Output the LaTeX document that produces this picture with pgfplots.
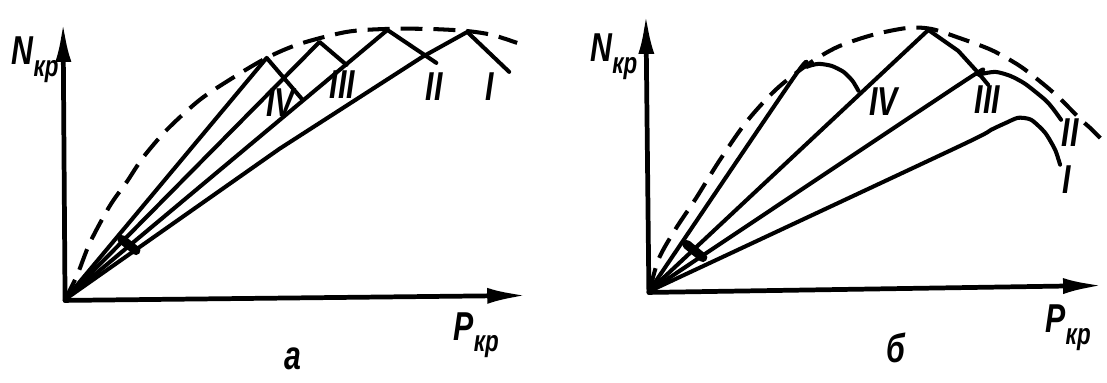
\documentclass[border=0pt]{standalone}
\usepackage{fontspec}
\setmainfont{Liberation Sans}[FakeStretch=0.75]
\usepackage{pgfplots}
\pgfplotsset{compat=1.18}
\usetikzlibrary{arrows.meta}
\tikzset{
  curve/.style={black, line width=1.15pt},
  env/.style={black, line width=1.15pt, dash pattern=on 2.2mm off 1.1mm, line cap=butt},
  ax/.style={black, line width=1.35pt, -{Latex[length=4mm,width=1.6mm]}},
  lab/.style={font=\fontsize{11.5}{13}\selectfont\bfseries\itshape},
}
\begin{document}
\begin{tikzpicture}
\begin{axis}[
  scale only axis, width=11.07cm, height=3.72cm,
  xmin=0, xmax=1107, ymin=0, ymax=372, y dir=reverse,
  hide axis, clip=false,
  every axis plot/.append style={line join=round, line cap=round},
]
\addplot[draw=none] coordinates {(0,0) (1107,372)};
% ---------- panel a ----------
\addplot[ax] coordinates {(65,301) (63,22)};
\addplot[ax] coordinates {(65,301) (528,296)};
\addplot[env, smooth, tension=0.5] coordinates {(65,300) (77,276) (90,243) (110,206) (127,182) (143,158) (167,130) (200,100) (233,78) (267,58) (300,44) (347,32) (387,29) (430,29) (467,31) (493,35) (518,43)};
\addplot[curve] coordinates {(65,300) (267,58) (303,100)};
\addplot[curve] coordinates {(65,300) (320,42) (347,65)};
\addplot[curve] coordinates {(65,300) (388,30) (437,63)};
\addplot[curve] coordinates {(65,300) (280,149) (423,57) (468,32) (510,72)};
\addplot[black, line width=2.6pt] coordinates {(122,240) (136,251)};
\node[lab] at (axis cs:35,60) {N\raisebox{-0.55ex}{\fontsize{8.5}{9}\selectfont кр}};
\node[lab] at (axis cs:281,103) {IV};
\node[lab] at (axis cs:343,85) {III};
\node[lab] at (axis cs:435,87) {II};
\node[lab] at (axis cs:490,87) {I};
\node[lab] at (axis cs:477,336) {P\raisebox{-0.55ex}{\fontsize{8.5}{9}\selectfont кр}};
\node[lab] at (axis cs:293,360) {а};
% ---------- panel b ----------
\addplot[ax] coordinates {(650,293) (647,14)};
\addplot[ax] coordinates {(650,293) (1105,286)};
\addplot[env, smooth, tension=0.5] coordinates {(651,290) (660,259) (677,229) (697,199) (720,162) (747,123) (777,90) (810,64) (839,47) (874,35) (909,28) (933,29) (961,38) (993,50) (1020,65) (1040,80) (1060,97) (1083,120) (1093,129) (1107,143)};
\addplot[curve, smooth, tension=0.4] coordinates {(650,292) (797,75) (808,67) (820,64) (833,66) (845,72) (854,81) (860,91)};
\addplot[curve] coordinates {(650,292) (930,30) (960,51) (980,73) (990,85)};
\addplot[curve, smooth, tension=0.4] coordinates {(650,292) (965,82) (980,75) (997,72) (1012,76) (1027,84) (1047,100) (1055,109) (1063,120)};
\addplot[curve, smooth, tension=0.4] coordinates {(650,292) (960,147) (993,130) (1008,123) (1020,118) (1033,120) (1047,133) (1057,150) (1062,165)};
\addplot[black, line width=2.6pt] coordinates {(688,245) (704,258)};
\node[lab] at (axis cs:615,57) {N\raisebox{-0.55ex}{\fontsize{8.5}{9}\selectfont кр}};
\node[lab] at (axis cs:885,102) {IV};
\node[lab] at (axis cs:989,100) {III};
\node[lab] at (axis cs:1072,133) {II};
\node[lab] at (axis cs:1069,180) {I};
\node[lab] at (axis cs:1070,328) {P\raisebox{-0.55ex}{\fontsize{8.5}{9}\selectfont кр}};
\node[lab] at (axis cs:897,349) {б};
\end{axis}
\end{tikzpicture}
\end{document}
